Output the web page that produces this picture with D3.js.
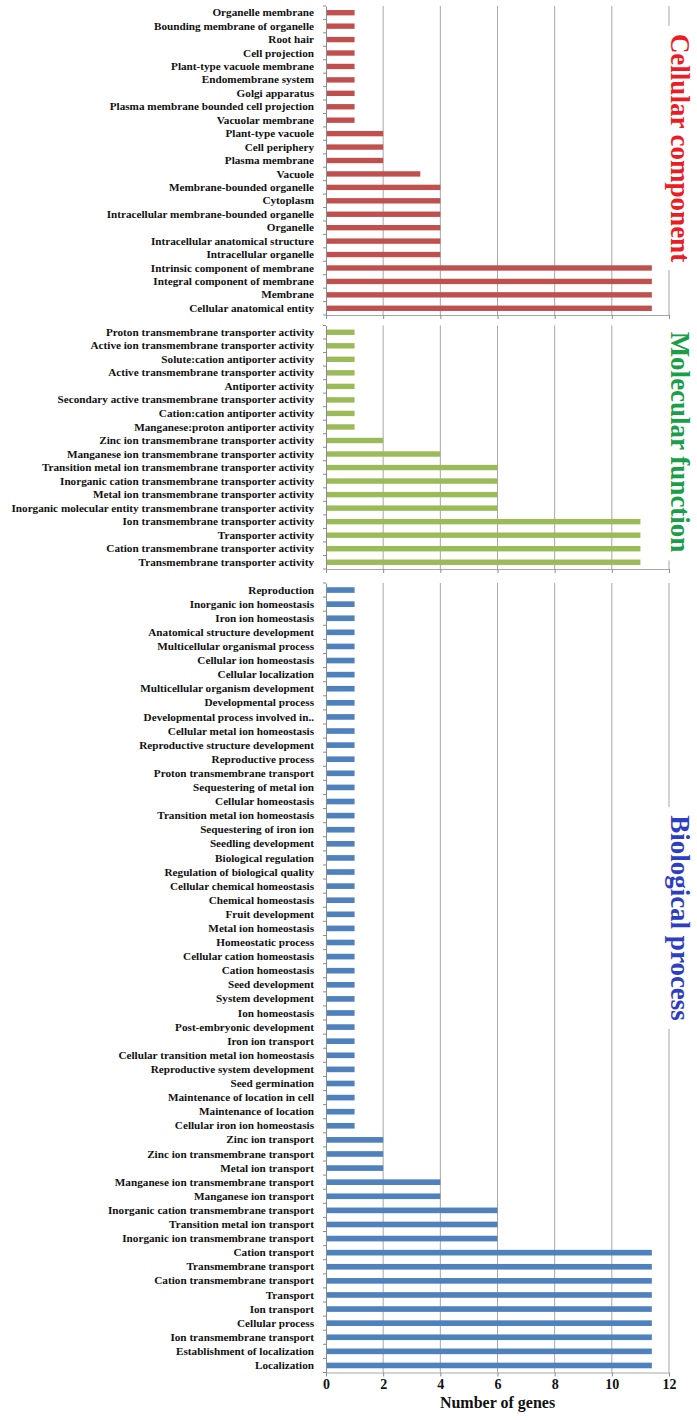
<!DOCTYPE html>
<html>
<head>
<meta charset="utf-8">
<script src="https://cdn.jsdelivr.net/npm/d3@7"></script>
<style>
  body { margin: 0; background: #fff; }
  svg text { font-family: "Liberation Serif", "Times New Roman", serif; font-weight: bold; }
</style>
</head>
<body>
<div id="chart"></div>
<script>
// Cellular component
const ccLabels = [
    "Organelle membrane", "Bounding membrane of organelle", "Root hair", "Cell projection",
    "Plant-type vacuole membrane", "Endomembrane system", "Golgi apparatus",
    "Plasma membrane bounded cell projection", "Vacuolar membrane", "Plant-type vacuole",
    "Cell periphery", "Plasma membrane", "Vacuole", "Membrane-bounded organelle", "Cytoplasm",
    "Intracellular membrane-bounded organelle", "Organelle", "Intracellular anatomical structure",
    "Intracellular organelle", "Intrinsic component of membrane", "Integral component of membrane",
    "Membrane", "Cellular anatomical entity"
];
const ccValues = [1, 1, 1, 1, 1, 1, 1, 1, 1, 2, 2, 2, 3.3, 4, 4, 4, 4, 4, 4, 11.4, 11.4, 11.4, 11.4];

// Molecular function
const mfLabels = [
    "Proton transmembrane transporter activity", "Active ion transmembrane transporter activity",
    "Solute:cation antiporter activity", "Active transmembrane transporter activity",
    "Antiporter activity", "Secondary active transmembrane transporter activity",
    "Cation:cation antiporter activity", "Manganese:proton antiporter activity",
    "Zinc ion transmembrane transporter activity", "Manganese ion transmembrane transporter activity",
    "Transition metal ion transmembrane transporter activity",
    "Inorganic cation transmembrane transporter activity", "Metal ion transmembrane transporter activity",
    "Inorganic molecular entity transmembrane transporter activity",
    "Ion transmembrane transporter activity", "Transporter activity",
    "Cation transmembrane transporter activity", "Transmembrane transporter activity"
];
const mfValues = [1, 1, 1, 1, 1, 1, 1, 1, 2, 4, 6, 6, 6, 6, 11, 11, 11, 11];

// Biological process
const bpLabels = [
    "Reproduction", "Inorganic ion homeostasis", "Iron ion homeostasis",
    "Anatomical structure development", "Multicellular organismal process", "Cellular ion homeostasis",
    "Cellular localization", "Multicellular organism development", "Developmental process",
    "Developmental process involved in..", "Cellular metal ion homeostasis",
    "Reproductive structure development", "Reproductive process", "Proton transmembrane transport",
    "Sequestering of metal ion", "Cellular homeostasis", "Transition metal ion homeostasis",
    "Sequestering of iron ion", "Seedling development", "Biological regulation",
    "Regulation of biological quality", "Cellular chemical homeostasis", "Chemical homeostasis",
    "Fruit development", "Metal ion homeostasis", "Homeostatic process", "Cellular cation homeostasis",
    "Cation homeostasis", "Seed development", "System development", "Ion homeostasis",
    "Post-embryonic development", "Iron ion transport", "Cellular transition metal ion homeostasis",
    "Reproductive system development", "Seed germination", "Maintenance of location in cell",
    "Maintenance of location", "Cellular iron ion homeostasis", "Zinc ion transport",
    "Zinc ion transmembrane transport", "Metal ion transport", "Manganese ion transmembrane transport",
    "Manganese ion transport", "Inorganic cation transmembrane transport",
    "Transition metal ion transport", "Inorganic ion transmembrane transport", "Cation transport",
    "Transmembrane transport", "Cation transmembrane transport", "Transport", "Ion transport",
    "Cellular process", "Ion transmembrane transport", "Establishment of localization", "Localization"
];
const bpValues = [
    1, 1, 1, 1, 1, 1, 1, 1, 1, 1, 1, 1, 1, 1, 1, 1, 1, 1, 1, 1,
    1, 1, 1, 1, 1, 1, 1, 1, 1, 1, 1, 1, 1, 1, 1, 1, 1, 1, 1,
    2, 2, 2, 4, 4, 6, 6, 6,
    11.4, 11.4, 11.4, 11.4, 11.4, 11.4, 11.4, 11.4, 11.4
];

const xTicks = [0, 2, 4, 6, 8, 10, 12];
const xTitle = "Number of genes";

const width = 697, height = 1420;
const left = 326, right = 669;

const panels = [
    { title: "Cellular component", labels: ccLabels, values: ccValues, top: 6, bottom: 315,
      titleY: 148, bar: "#c0504d", titleColor: "#ed1c24" },
    { title: "Molecular function", labels: mfLabels, values: mfValues, top: 325.5, bottom: 569,
      titleY: 442, bar: "#9bbb59", titleColor: "#1a9e48" },
    { title: "Biological process", labels: bpLabels, values: bpValues, top: 583, bottom: 1372.5,
      titleY: 918, bar: "#4f81bd", titleColor: "#2e3ec4" }
];

const svg = d3.select("#chart")
    .append("svg")
    .attr("width", width)
    .attr("height", height);

const x = d3.scaleLinear()
    .domain([0, 12])
    .range([left, right]);

panels.forEach((p, pi) => {
    const g = svg.append("g");
    const data = p.labels.map((l, i) => ({ key: l, count: p.values[i] }));

    const y = d3.scaleBand()
        .domain(p.labels)
        .range([p.top, p.bottom])
        .paddingInner(0.6)
        .paddingOuter(0.3);

    // grid lines
    g.selectAll(".grid")
        .data(xTicks.slice(1))
        .enter()
        .append("line")
        .attr("x1", d => x(d))
        .attr("x2", d => x(d))
        .attr("y1", p.top)
        .attr("y2", p.bottom)
        .attr("stroke", "#a6a6a6")
        .attr("stroke-width", 1);

    // bars
    g.selectAll(".bar")
        .data(data)
        .enter()
        .append("rect")
        .attr("x", x(0))
        .attr("y", d => y(d.key))
        .attr("width", d => x(d.count) - x(0))
        .attr("height", y.bandwidth())
        .attr("fill", p.bar);

    // left axis: labels only, Excel-style boundary ticks drawn separately
    const yAxis = g.append("g")
        .attr("transform", `translate(${left},0)`)
        .call(d3.axisLeft(y).tickSize(0).tickPadding(12));
    yAxis.select(".domain").attr("stroke", "#8c8c8c");
    yAxis.selectAll("text")
        .style("font-size", "11.2px")
        .style("font-family", "'Liberation Serif', 'Times New Roman', serif")
        .style("font-weight", "bold")
        .attr("fill", "#111");

    g.selectAll(".ytick")
        .data(d3.range(p.labels.length + 1))
        .enter()
        .append("line")
        .attr("x1", left - 3)
        .attr("x2", left)
        .attr("y1", i => p.top + i * y.step())
        .attr("y2", i => p.top + i * y.step())
        .attr("stroke", "#8c8c8c");

    // bottom axis
    const xAxis = g.append("g")
        .attr("transform", `translate(0,${p.bottom})`)
        .call(d3.axisBottom(x).tickValues(xTicks).tickSize(4).tickSizeOuter(0).tickPadding(3));
    xAxis.select(".domain").attr("stroke", "#a6a6a6");
    xAxis.selectAll(".tick line").attr("stroke", "#8c8c8c");
    if (pi === panels.length - 1) {
        xAxis.selectAll("text")
            .style("font-size", "14px")
            .style("font-family", "'Liberation Serif', 'Times New Roman', serif")
            .style("font-weight", "bold")
            .attr("fill", "#111");
    } else {
        xAxis.selectAll("text").remove();
    }

    // vertical panel title on the right
    const tg = svg.append("g")
        .attr("transform", `translate(671,${p.titleY}) rotate(90)`);
    const t = tg.append("text")
        .attr("x", 0)
        .attr("y", 0)
        .attr("text-anchor", "middle")
        .style("font-size", "27px")
        .attr("fill", p.titleColor)
        .text(p.title);
    const len = t.node().getComputedTextLength();
    tg.insert("rect", "text")
        .attr("x", -len / 2 - 8)
        .attr("y", -24)
        .attr("width", len + 16)
        .attr("height", 34)
        .attr("fill", "#fff");
});

svg.append("text")
    .attr("x", (left + right) / 2)
    .attr("y", 1408)
    .attr("text-anchor", "middle")
    .style("font-size", "16px")
    .attr("fill", "#111")
    .text(xTitle);
</script>
</body>
</html>
